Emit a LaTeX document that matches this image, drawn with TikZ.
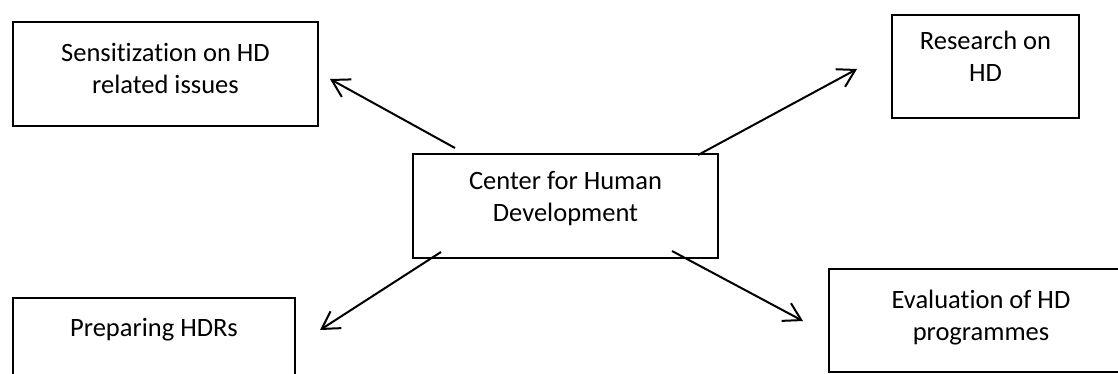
\documentclass[tikz,border=0pt]{standalone}
\usepackage{fontspec}
\setmainfont{Carlito}[Ligatures={NoCommon}]
\usetikzlibrary{arrows.meta}
\tikzset{
  box/.style={draw=black, line width=1.4pt, inner sep=0pt, anchor=center},
  boxtext/.style={anchor=base, inner sep=0pt, align=center,
    font=\fontsize{26.5}{32}\selectfont},
  arr/.style={line width=2pt, -{Straight Barb[length=17pt,width=20pt,line width=2pt]}}
}
\begin{document}
\begin{tikzpicture}[x=1pt, y=-1pt]
  \useasboundingbox (0,0) rectangle (1118,373);
  \clip (0,0) rectangle (1118,373);

  % the five boxes
  \node[box, minimum width=305pt, minimum height=104pt] (sens) at (165.5,74) {};
  \node[box, minimum width=187pt, minimum height=103pt] (res)  at (985.5,66.5) {};
  \node[box, minimum width=305pt, minimum height=104pt] (chd)  at (565.5,206) {};
  \node[box, minimum width=282pt, minimum height=104pt] (hdr)  at (154,350) {};
  \node[box, minimum width=304pt, minimum height=103pt] (eval) at (981,320.5) {};

  % their texts; the base anchor is the baseline of the last line
  \node[boxtext] (senst) at ([yshift=-72pt]sens.north) {Sensitization on HD\\related issues};
  \node[boxtext] (rest)  at ([yshift=-67pt]res.north)  {Research on\\HD};
  \node[boxtext] (chdt)  at ([yshift=-68pt]chd.north)  {Center for Human\\Development};
  \node[boxtext] (hdrt)  at ([yshift=-39pt]hdr.north)  {Preparing HDRs};
  \node[boxtext] (evalt) at ([yshift=-72pt]eval.north) {Evaluation of HD\\programmes};

  % arrow ends
  \coordinate (a1) at (455,148);
  \coordinate (b1) at (330,79);
  \coordinate (a2) at (698,155);
  \coordinate (b2) at (857,69);
  \coordinate (a3) at (441,252);
  \coordinate (b3) at (320,330);
  \coordinate (a4) at (672,251);
  \coordinate (b4) at (803,321);

  \draw[arr] (a1) -- (b1);
  \draw[arr] (a2) -- (b2);
  \draw[arr] (a3) -- (b3);
  \draw[arr] (a4) -- (b4);
\end{tikzpicture}
\end{document}
